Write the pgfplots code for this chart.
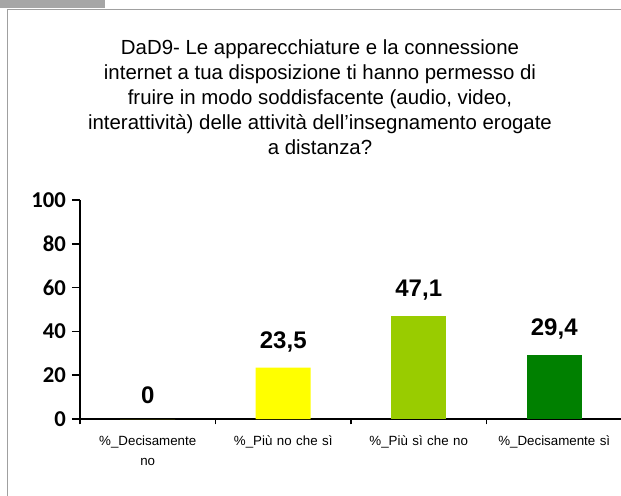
\documentclass[border=0pt]{standalone}
\usepackage{pgfplots}
\pgfplotsset{compat=1.18}
\usepackage{fontspec}
\setmainfont{Liberation Sans}
\newfontfamily\calibri{Carlito}
\definecolor{framegray}{HTML}{A0A0A0}
\definecolor{tabgray}{HTML}{A6A6A6}
\definecolor{cyellow}{HTML}{FFFF00}
\definecolor{clime}{HTML}{99CC00}
\definecolor{cgreen}{HTML}{008000}
\begin{document}
\begin{tikzpicture}
\path[use as bounding box,fill=white] (0,0) rectangle (465.75pt,372pt);
\fill[tabgray] (0,366pt) rectangle (78.75pt,372pt);
\draw[framegray,line width=0.75pt] (5.6pt,0) -- (5.6pt,364.9pt) -- (470pt,364.9pt);
\node[align=center,font=\fontsize{15.3}{18.75}\selectfont] at (240pt,298.9pt)
{DaD9- Le apparecchiature e la connessione\\
internet a tua disposizione ti hanno permesso di\\
fruire in modo soddisfacente (audio, video,\\
interattività) delle attività dell’insegnamento erogate\\
a distanza?};
\begin{axis}[
  at={(60pt,57.75pt)}, anchor=south west,
  scale only axis, width=406.5pt, height=164.25pt,
  xmin=-0.5, xmax=3.5, ymin=0, ymax=100,
  axis x line=bottom, axis y line=left,
  axis line style={-, black, line width=1.3pt},
  ytick={0,20,40,60,80,100},
  yticklabel style={font=\calibri\bfseries\fontsize{17}{17}\selectfont, xshift=-1pt},
  /pgf/number format/assume math mode=true,
  /pgf/number format/use comma,
  ytick style={black, line width=1.3pt},
  tick align=outside, major tick length=6pt,
  xtick={0,1,2,3},
  xticklabels={{\%\_Decisamente\\no},{\%\_Più no che sì},{\%\_Più sì che no},{\%\_Decisamente sì}},
  xticklabel style={font=\fontsize{10}{15}\selectfont, text width=98pt, align=center, yshift=-3pt},
  x tick style={draw=none},
  extra x ticks={-0.5,0.5,1.5,2.5},
  extra x tick labels={},
  extra x tick style={x tick style={draw=black, line width=1pt}, major tick length=4pt},
  ybar, bar width=41.25pt, bar shift=0pt,
  nodes near coords={\pgfmathprintnumber[fixed,precision=1,use comma,assume math mode=true]{\pgfplotspointmeta}},
  every node near coord/.append style={font=\bfseries\fontsize{18}{18}\selectfont, inner sep=0pt, yshift=11.5pt, black},
  clip=false,
]
\addplot[draw=none, fill=cyellow, bar shift=0pt] coordinates {(0,0) (1,23.5)};
\addplot[draw=none, fill=clime, bar shift=0pt] coordinates {(2,47.1)};
\addplot[draw=none, fill=cgreen, bar shift=0pt] coordinates {(3,29.4)};
\end{axis}
\end{tikzpicture}
\end{document}
